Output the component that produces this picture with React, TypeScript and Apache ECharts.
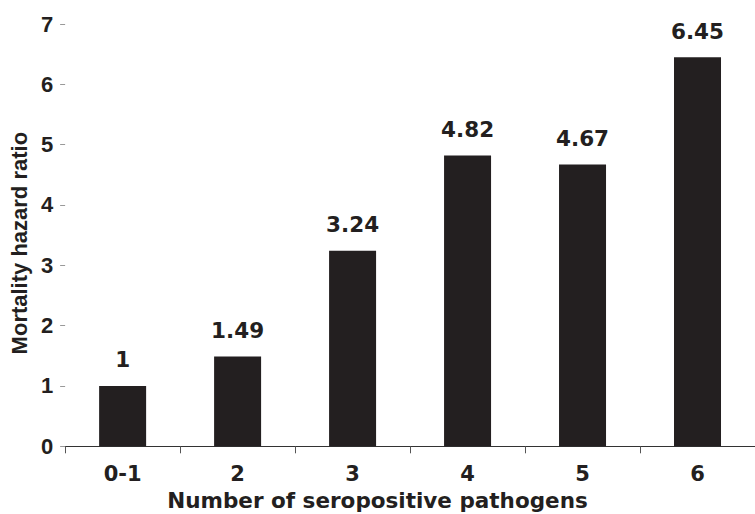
import React, { useEffect, useRef } from "react";
import * as echarts from "echarts";

const categories = ["0-1", "2", "3", "4", "5", "6"];
const hazardRatios = [1, 1.49, 3.24, 4.82, 4.67, 6.45];
const yTicks = { min: 0, max: 7, interval: 1 };
const xTitle = "Number of seropositive pathogens";
const yTitle = "Mortality hazard ratio";

const INK = "#231f20";
const ARIAL = "'Liberation Sans', Arial, Helvetica, sans-serif";
const WIDE = "'DejaVu Sans', 'Liberation Sans', Arial, sans-serif";

export default function App() {
  const ref = useRef<HTMLDivElement>(null);
  useEffect(() => {
    if (!ref.current) return;
    const chart = echarts.init(ref.current, undefined, { renderer: "svg" });
    chart.setOption({
      animation: false,
      backgroundColor: "#ffffff",
      textStyle: { fontFamily: ARIAL },
      title: {
        text: xTitle,
        left: "center",
        top: 489,
        padding: 0,
        textStyle: { fontFamily: WIDE, fontWeight: "bold", fontSize: 21.5, color: INK },
      },
      grid: { left: 62.7, right: -11.6, top: 24, bottom: 67.7, containLabel: false },
      xAxis: {
        type: "category",
        data: categories,
        axisLine: { show: true, lineStyle: { color: "#333", width: 1.2 } },
        axisTick: { show: true, inside: false, length: 7, lineStyle: { color: "#555" } },
        axisLabel: {
          margin: 17,
          fontFamily: WIDE,
          fontWeight: "bold",
          fontSize: 21,
          color: INK,
        },
        splitLine: { show: false },
      },
      yAxis: {
        type: "value",
        min: yTicks.min,
        max: yTicks.max,
        interval: yTicks.interval,
        name: yTitle,
        nameLocation: "middle",
        nameGap: 33,
        nameRotate: 90,
        nameTextStyle: {
          fontFamily: ARIAL,
          fontWeight: "bold",
          fontSize: 22,
          color: INK,
          padding: [0, 16, 0, 0],
        },
        axisLine: { show: false },
        axisTick: { show: true, length: 5, lineStyle: { color: "#999" } },
        axisLabel: {
          margin: 12,
          fontFamily: ARIAL,
          fontWeight: "bold",
          fontSize: 22,
          color: INK,
        },
        splitLine: { show: false },
      },
      series: [
        {
          type: "bar",
          data: hazardRatios,
          barWidth: 47,
          itemStyle: { color: INK },
          label: {
            show: true,
            position: "top",
            distance: 15,
            fontFamily: WIDE,
            fontWeight: "bold",
            fontSize: 21.5,
            color: INK,
          },
        },
      ],
    });
    return () => chart.dispose();
  }, []);
  return (
    <div
      ref={ref}
      style={{ position: "absolute", left: 0, top: 0, width: 755, height: 514 }}
    />
  );
}
